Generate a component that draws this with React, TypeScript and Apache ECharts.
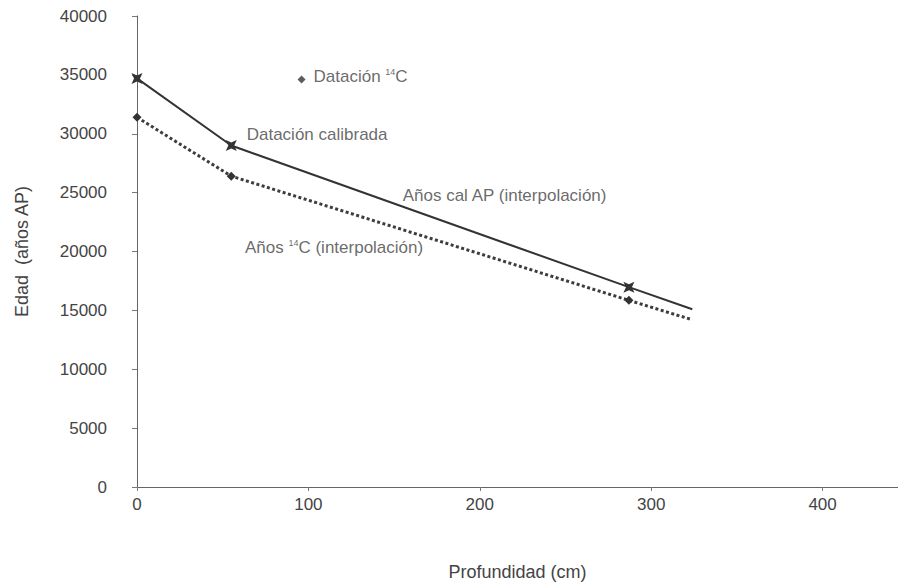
import React, { useEffect, useRef } from "react";
import * as echarts from "echarts";

// Depth (cm) and ages (years BP)
const calDepths = [0, 55, 287, 324];
const calAges = [34700, 29000, 16970, 15100];
const c14Depths = [0, 55, 287, 324];
const c14Ages = [31400, 26400, 15850, 14200];
const markedPoints = [true, true, true, false];

const yTicks = [0, 5000, 10000, 15000, 20000, 25000, 30000, 35000, 40000];
const xTicks = [0, 100, 200, 300, 400];

// Legend sample and annotations: [depth, age, text]
const legendDiamond = [96, 34600];
const annotations: [number, number, string][] = [
  [103, 34850, "Datación {sup|14}C"],
  [64, 29950, "Datación calibrada"],
  [155, 24750, "Años cal AP (interpolación)"],
  [63, 20350, "Años {sup|14}C (interpolación)"],
];

const INK = "#333333";
const TXT = "#444444";
const FONT = "Liberation Sans";
const STAR = "path://M0,0 L5,2.3 L10,0 L7.7,5 L10,10 L5,7.7 L0,10 L2.3,5 Z";

export default function App() {
  const ref = useRef<HTMLDivElement>(null);
  useEffect(() => {
    document.body.style.margin = "0";
    const chart = echarts.init(ref.current!, null, { renderer: "svg" });
    const calData = calDepths.map((d, i) => ({
      value: [d, calAges[i]],
      symbol: markedPoints[i] ? STAR : "none",
    }));
    const c14Data = c14Depths.map((d, i) => ({
      value: [d, c14Ages[i]],
      symbol: markedPoints[i] ? "diamond" : "none",
    }));
    chart.setOption({
      animation: false,
      backgroundColor: "#ffffff",
      textStyle: { fontFamily: FONT },
      grid: { left: 137, right: 0, top: 16, bottom: 97, containLabel: false },
      xAxis: {
        type: "value",
        min: 0,
        max: 444,
        interval: 100,
        name: "Profundidad (cm)",
        nameLocation: "middle",
        nameGap: 76,
        nameTextStyle: { fontSize: 18, color: TXT, fontFamily: FONT },
        axisLine: { show: true, lineStyle: { color: "#666", width: 1 } },
        axisTick: { show: true, length: 4, lineStyle: { color: "#777" }, customValues: xTicks },
        axisLabel: {
          fontSize: 17,
          color: TXT,
          margin: 9,
          fontFamily: FONT,
          customValues: xTicks,
          formatter: (v: number) => String(v),
        },
        splitLine: { show: false },
      },
      yAxis: {
        type: "value",
        min: 0,
        max: 40000,
        interval: 5000,
        name: "Edad  (años AP)",
        nameLocation: "middle",
        nameGap: 106,
        nameTextStyle: { fontSize: 18, color: TXT, fontFamily: FONT },
        axisLine: { show: true, lineStyle: { color: "#666", width: 1 } },
        axisTick: { show: true, length: 5, lineStyle: { color: "#777" }, customValues: yTicks },
        axisLabel: {
          fontSize: 17,
          color: TXT,
          margin: 30,
          fontFamily: FONT,
          customValues: yTicks,
          formatter: (v: number) => String(v),
        },
        splitLine: { show: false },
      },
      series: [
        {
          name: "Años cal AP (interpolación)",
          type: "line",
          data: calData,
          symbolSize: 11,
          itemStyle: { color: INK },
          lineStyle: { color: INK, width: 2 },
          z: 3,
        },
        {
          name: "Años 14C (interpolación)",
          type: "line",
          data: c14Data,
          symbolSize: 9,
          itemStyle: { color: INK },
          lineStyle: { color: "#3d3d3d", width: 3, type: [3, 2.5] },
          z: 2,
        },
        {
          name: "leyenda",
          type: "scatter",
          data: [legendDiamond],
          symbol: "diamond",
          symbolSize: 8,
          itemStyle: { color: INK },
          z: 4,
        },
        {
          name: "anotaciones",
          type: "scatter",
          symbolSize: 0,
          data: annotations.map((a) => ({ value: [a[0], a[1]], name: a[2] })),
          label: {
            show: true,
            position: "right",
            distance: 0,
            formatter: (p: any) => p.name,
            fontSize: 17,
            color: TXT,
            fontFamily: FONT,
            rich: {
              sup: { fontSize: 9, color: TXT, fontFamily: FONT, padding: [0, 0, 9, 0] },
            },
          },
          z: 5,
        },
      ],
    });
    return () => chart.dispose();
  }, []);
  return <div ref={ref} style={{ width: 898, height: 586 }} />;
}
